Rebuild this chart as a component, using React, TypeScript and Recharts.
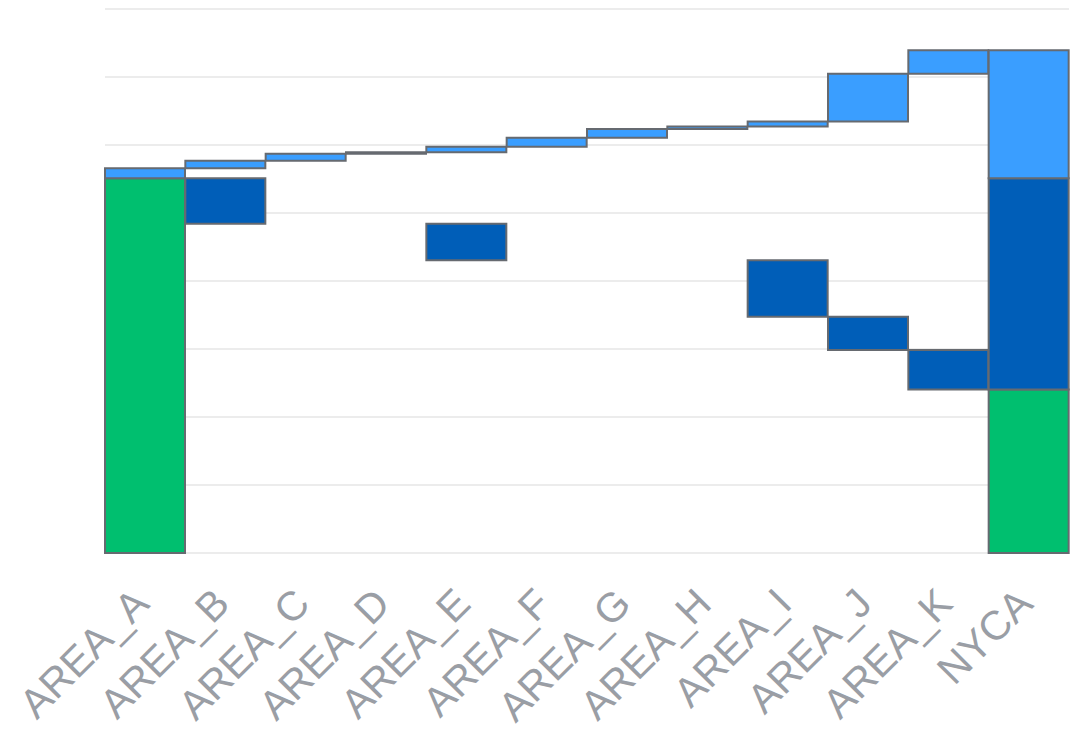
import React from 'react'
import { BarChart, Bar, XAxis, YAxis, CartesianGrid } from 'recharts'

const categories = [
  'AREA_A',
  'AREA_B',
  'AREA_C',
  'AREA_D',
  'AREA_E',
  'AREA_F',
  'AREA_G',
  'AREA_H',
  'AREA_I',
  'AREA_J',
  'AREA_K',
]
const totalLabel = 'NYCA'

// starting level (green bar of AREA_A)
const startValue = 551
// increases per area (light blue)
const increases = [14.7, 11, 10.3, 2.2, 8.1, 13.2, 13.2, 3.4, 7.6, 69.9, 34.6]
// decreases per area (dark blue)
const decreases = [0, 66.9, 0, 0, 53.7, 0, 0, 0, 82.9, 49, 58.1]

const yTicks = [0, 100, 200, 300, 400, 500, 600, 700, 800]

const GREEN = '#00bf6f'
const DARK = '#005eb8'
const LIGHT = '#3a9eff'
const EDGE = '#666a70'

const buildRows = () => {
  const rows: any[] = []
  let up = startValue
  let down = startValue
  categories.forEach((name, i) => {
    const darkTop = down
    const darkLow = down - decreases[i]
    rows.push({
      name,
      base: i === 0 ? 0 : darkLow,
      green: i === 0 ? startValue : 0,
      dark: decreases[i],
      gap: up - darkTop,
      light: increases[i],
    })
    up += increases[i]
    down -= decreases[i]
  })
  const totUp = increases.reduce((a, b) => a + b, 0)
  const totDown = decreases.reduce((a, b) => a + b, 0)
  rows.push({
    name: totalLabel,
    base: 0,
    green: startValue - totDown,
    dark: totDown,
    gap: 0,
    light: totUp,
  })
  return rows
}

const data = buildRows()

const AngledTick = (props: any) => {
  const { x, y, payload } = props
  const ax = x + 6
  const ay = y + 45
  return (
    <text
      x={ax}
      y={ay}
      textAnchor="end"
      fill="#9a9ea5"
      fontSize={41}
      fontFamily="'Liberation Sans', Arial, sans-serif"
      transform={`rotate(-45, ${ax}, ${ay})`}
    >
      {payload.value}
    </text>
  )
}

export default function App() {
  return (
    <BarChart
      width={1066}
      height={728}
      data={data}
      barCategoryGap={0}
      margin={{ top: 1, right: 5, left: 97, bottom: 13 }}
    >
      <CartesianGrid vertical={false} stroke="#e6e6e6" strokeWidth={1.5} />
      <XAxis
        dataKey="name"
        interval={0}
        axisLine={false}
        tickLine={false}
        height={170}
        tick={<AngledTick />}
      />
      <YAxis hide domain={[0, 800]} ticks={yTicks} />
      <Bar dataKey="base" stackId="w" fill="transparent" isAnimationActive={false} />
      <Bar dataKey="green" stackId="w" fill={GREEN} stroke={EDGE} strokeWidth={2} isAnimationActive={false} />
      <Bar dataKey="dark" stackId="w" fill={DARK} stroke={EDGE} strokeWidth={2} isAnimationActive={false} />
      <Bar dataKey="gap" stackId="w" fill="transparent" isAnimationActive={false} />
      <Bar dataKey="light" stackId="w" fill={LIGHT} stroke={EDGE} strokeWidth={2} isAnimationActive={false} />
    </BarChart>
  )
}
